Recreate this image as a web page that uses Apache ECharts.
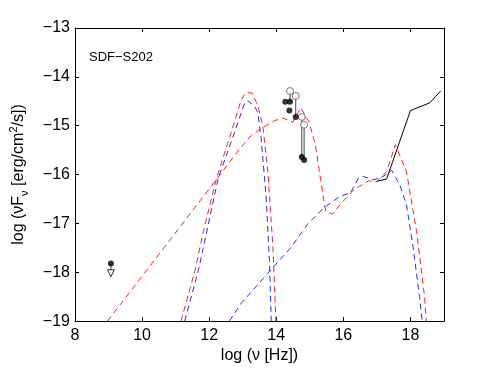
<!DOCTYPE html>
<html>
<head>
<meta charset="utf-8">
<script src="https://cdn.jsdelivr.net/npm/echarts@6/dist/echarts.min.js"></script>
<style>
  html, body { margin: 0; padding: 0; background: #fff; }
  #chart { width: 491px; height: 369px; }
</style>
</head>
<body>
<div id="chart"></div>
<script>
// model curves: [log nu, log nuFnu]
const redBroad = [[8.97, -19], [11.19, -17.02], [12.96, -15.43], [13.26, -15.2], [13.55, -15.06], [13.94, -14.9],
  [14.19, -14.84], [14.49, -14.93], [14.73, -14.63], [14.98, -14.93], [15.17, -15.4], [15.32, -16.1],
  [15.47, -16.75], [15.67, -16.81], [15.91, -16.61], [16.31, -16.31], [16.75, -16.13], [17.0, -16.14],
  [17.29, -15.94], [17.55, -15.39], [17.88, -15.94], [18.18, -17.15], [18.42, -18.5], [18.47, -19]]
const redNarrow = [[11.16, -19], [11.58, -17.96], [11.83, -17.15], [12.22, -16.07], [12.66, -15.13], [12.96, -14.46],
  [13.1, -14.32], [13.28, -14.33], [13.45, -14.59], [13.6, -15.0], [13.75, -15.94], [13.9, -17.49], [13.99, -19]]
const blueNarrow = [[11.27, -19], [11.68, -17.96], [12.27, -16.07], [12.76, -15.13], [13.06, -14.53], [13.15, -14.49],
  [13.35, -14.6], [13.45, -14.73], [13.55, -15.27], [13.7, -16.48], [13.8, -17.82], [13.85, -19]]
const blueBroad = [[12.6, -19], [12.96, -18.63], [13.75, -18.02], [14.44, -17.49], [14.93, -17.02], [15.42, -16.68],
  [15.91, -16.44], [16.21, -16.38], [16.45, -16.07], [16.6, -16.04], [16.9, -16.11], [17.19, -16.04],
  [17.44, -15.91], [17.68, -16.21], [17.88, -16.61], [18.08, -17.49], [18.27, -18.5], [18.35, -19]]
const xray = [[17.0, -16.14], [17.29, -16.09], [18.0, -14.69], [18.58, -14.53], [18.9, -14.29]]

// photometry
const detections = [[9.07, -17.82], [14.27, -14.51], [14.41, -14.51], [14.39, -14.69], [14.58, -14.82], [14.76, -15.64], [14.83, -15.7]]
const openPoints = [[14.41, -14.29], [14.58, -14.39], [14.76, -14.82], [14.83, -14.98]]
const upperLimits = [[9.07, -18.02]]
// vertical bars: [x, top, bottom]
const bars = [[9.07, -17.82, -18.02], [14.41, -14.29, -14.51], [14.58, -14.39, -14.82], [14.76, -14.82, -15.64], [14.83, -14.98, -15.7]]

const font = 'Liberation Sans, Arial, sans-serif'
const dash = [6, 4]

function curve (data, color, dashed) {
  return {
    type: 'line',
    data: data,
    showSymbol: false,
    silent: true,
    lineStyle: { color: color, width: 1, type: dashed ? dash : 'solid' }
  }
}

const series = [
  curve(redBroad, '#ff2020', true),
  curve(redNarrow, '#ff2020', true),
  curve(blueNarrow, '#2030ff', true),
  curve(blueBroad, '#2030ff', true),
  curve(xray, '#000', false)
]
bars.forEach(b => {
  series.push(curve([[b[0], b[1]], [b[0], b[2]]], '#444', false))
})
series.push({
  type: 'scatter',
  data: openPoints,
  symbol: 'circle',
  symbolSize: 7,
  itemStyle: { color: '#fff', borderColor: '#555', borderWidth: 1 },
  z: 5
})
series.push({
  type: 'scatter',
  data: detections,
  symbol: 'circle',
  symbolSize: 6,
  itemStyle: { color: '#000' },
  z: 6
})
series.push({
  type: 'scatter',
  data: upperLimits,
  symbol: 'triangle',
  symbolRotate: 180,
  symbolSize: 7,
  itemStyle: { color: '#fff', borderColor: '#000', borderWidth: 1 },
  z: 6
})

const axisCommon = {
  type: 'value',
  axisLine: { show: true, onZero: false, lineStyle: { color: '#000', width: 1 } },
  axisTick: { show: true, inside: true, length: 4, lineStyle: { color: '#000' } },
  splitLine: { show: false }
}

const chart = echarts.init(document.getElementById('chart'))
chart.setOption({
  animation: false,
  backgroundColor: '#fff',
  grid: { left: 72, top: 28, right: 47, bottom: 44, containLabel: false },
  xAxis: [
    Object.assign({}, axisCommon, {
      position: 'bottom', min: 8, max: 19, interval: 2,
      axisLabel: { color: '#000', fontSize: 16, fontFamily: font, margin: 6, showMaxLabel: false },
      name: 'log (ν [Hz])',
      nameLocation: 'middle',
      nameGap: 23,
      nameTextStyle: { color: '#000', fontSize: 16, fontFamily: font }
    }),
    Object.assign({}, axisCommon, {
      position: 'top', min: 8, max: 19, interval: 2,
      axisLabel: { show: false }
    })
  ],
  yAxis: [
    Object.assign({}, axisCommon, {
      position: 'left', min: -19, max: -13, interval: 1,
      axisLabel: { color: '#000', fontSize: 16, fontFamily: font, margin: 5, formatter: v => '\u2212' + Math.abs(v) },
      name: '{a|log (νF}{sub|ν}{a| [erg/cm}{sup|2}{a|/s])}',
      nameLocation: 'middle',
      nameGap: 45,
      nameTextStyle: {
        color: '#000',
        fontFamily: font,
        rich: {
          a: { fontSize: 16, lineHeight: 22, fontFamily: font, color: '#000' },
          sub: { fontSize: 11, lineHeight: 11, verticalAlign: 'bottom', fontFamily: font, color: '#000' },
          sup: { fontSize: 11, lineHeight: 11, verticalAlign: 'top', fontFamily: font, color: '#000' }
        }
      }
    }),
    Object.assign({}, axisCommon, {
      position: 'right', min: -19, max: -13, interval: 1,
      axisLabel: { show: false }
    })
  ],
  graphic: [{
    type: 'text',
    left: 89,
    top: 51,
    style: { text: 'SDF\u2212S202', fontSize: 13, fontFamily: font, fill: '#000' }
  }],
  series: series
})
</script>
</body>
</html>
